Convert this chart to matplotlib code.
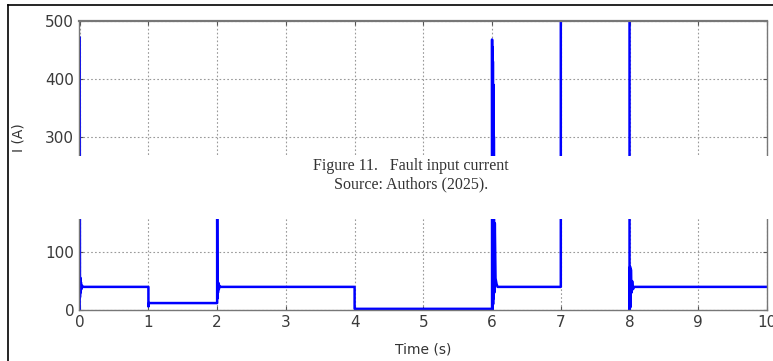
import matplotlib.pyplot as plt
from matplotlib.patches import Rectangle
from matplotlib.lines import Line2D

# fault input current
t_s = [0.000, 0.000, 0.004, 0.008, 0.012, 0.018, 0.025, 0.035, 0.050,
       1.000, 1.000, 1.008,
       2.000, 2.000, 2.004, 2.008, 2.012, 2.018, 2.025, 2.035, 2.050,
       4.000, 4.000, 4.008,
       6.000, 6.000, 6.003, 6.006, 6.009, 6.012, 6.015, 6.018, 6.022, 6.026,
       6.032, 6.040, 6.050, 6.065, 6.080,
       7.000, 7.000,
       8.000, 8.000, 8.008, 8.014, 8.020, 8.028, 8.038, 8.050, 8.065,
       10.000]
i_a = [0, 472, 22, 56, 30, 48, 36, 42, 40,
       40, 6, 12,
       12, 205, 20, 54, 30, 47, 36, 42, 40,
       40, 2, 2,
       2, 468, 0, 455, 5, 430, 10, 390, 20, 300,
       30, 150, 55, 45, 40,
       40, 3000,
       3000, -8, 75, 5, 70, 30, 50, 36, 40,
       40]

xticks = [0, 1, 2, 3, 4, 5, 6, 7, 8, 9, 10]
yticks = [0, 100, 200, 300, 400, 500]

fig = plt.figure(figsize=(7.73, 3.61), dpi=100)
ax = fig.add_axes([79/773, 1-310/361, (767-79)/773, (310-21)/361])

ax.plot(t_s, i_a, color='#0000ff', lw=1.8)
ax.set_xlim(-0.01, 10)
ax.set_ylim(0, 500)
ax.set_xticks(xticks)
ax.set_yticks(yticks)
ax.tick_params(direction='in', length=3, color='#555555', labelsize=11,
               labelcolor='#3a3a3a', top=True, right=True)
ax.grid(True, color='#999999', linestyle=(0, (1.5, 2)), lw=0.8)
for s in ax.spines.values():
    s.set_color('#777777')
    s.set_linewidth(1.0)
ax.spines['top'].set_linewidth(1.6)
ax.set_xlabel('Time (s)', fontsize=10, color='#333333', labelpad=9)

# y label sits where it shows above the pasted caption
fig.text(18/773, 1-138/361, 'I (A)', rotation=90, ha='center', va='center',
         fontsize=10, color='#333333')

# white caption block pasted over the middle of the chart
fig.patches.append(Rectangle((12/773, 1-219/361), 1, (219-156)/361,
                             transform=fig.transFigure, facecolor='white',
                             edgecolor='none', zorder=5))
fig.text(411/773, 1-166/361, 'Figure 11.   Fault input current', ha='center',
         va='center', fontsize=11.5, family='Liberation Serif', color='#333333',
         zorder=6)
fig.text(411/773, 1-184/361, 'Source: Authors (2025).', ha='center',
         va='center', fontsize=11.5, family='Liberation Serif', color='#333333',
         zorder=6)

# outer frame of the screenshot
fig.lines.append(Line2D([8/773, 8/773], [0, 1-5/361], transform=fig.transFigure,
                        color='black', lw=1.2))
fig.lines.append(Line2D([8/773, 1], [1-5/361, 1-5/361], transform=fig.transFigure,
                        color='black', lw=1.2))

fig.savefig('out.png', dpi=100)
